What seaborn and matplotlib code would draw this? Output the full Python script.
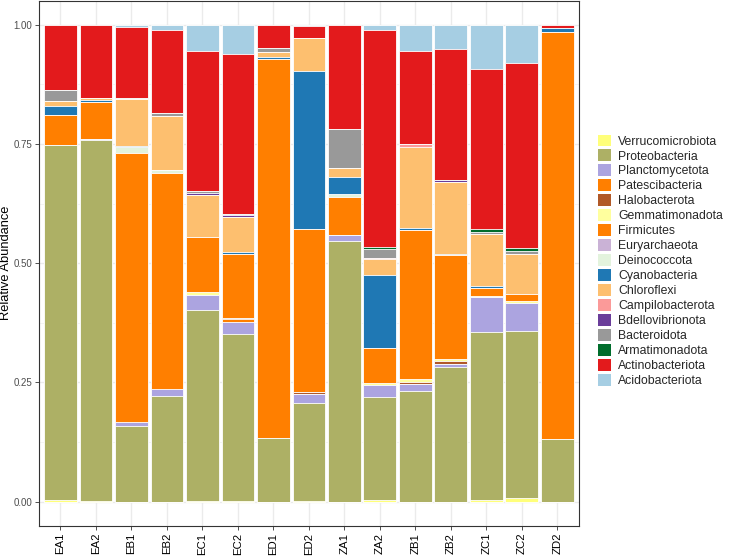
import matplotlib
matplotlib.use("Agg")
import matplotlib.pyplot as plt
import matplotlib.patches as mpatches
from matplotlib.ticker import MultipleLocator
import numpy as np
import pandas as pd
import seaborn as sns

samples = ["EA1", "EA2", "EB1", "EB2", "EC1", "EC2", "ED1", "ED2",
           "ZA1", "ZA2", "ZB1", "ZB2", "ZC1", "ZC2", "ZD2"]

# stack order: bottom -> top (same as legend order top -> bottom)
phyla = ["Verrucomicrobiota", "Proteobacteria", "Planctomycetota", "Patescibacteria",
         "Halobacterota", "Gemmatimonadota", "Firmicutes", "Euryarchaeota",
         "Deinococcota", "Cyanobacteria", "Chloroflexi", "Campilobacterota",
         "Bdellovibrionota", "Bacteroidota", "Armatimonadota", "Actinobacteriota",
         "Acidobacteriota"]

verrucomicrobiota = [0.003, 0.002, 0, 0, 0.002, 0.002, 0, 0.002, 0, 0.003, 0, 0, 0.003, 0.008, 0]
proteobacteria = [0.744, 0.756, 0.159, 0.221, 0.400, 0.349, 0.133, 0.204, 0.547, 0.216, 0.233, 0.283, 0.352, 0.350, 0.131]
planctomycetota = [0, 0.002, 0.009, 0.015, 0.031, 0.026, 0, 0.019, 0.012, 0.026, 0.014, 0.005, 0.073, 0.059, 0]
patescibacteria = [0, 0, 0.563, 0.453, 0, 0.005, 0.795, 0, 0, 0, 0, 0, 0, 0, 0.853]
halobacterota = [0, 0, 0, 0, 0, 0.004, 0, 0.004, 0, 0, 0.004, 0.007, 0, 0, 0]
gemmatimonadota = [0, 0, 0, 0, 0.006, 0, 0, 0, 0, 0.004, 0.007, 0.005, 0.004, 0.004, 0]
firmicutes = [0.063, 0.078, 0, 0, 0.116, 0.134, 0, 0.342, 0.080, 0.074, 0.311, 0.217, 0.016, 0.015, 0]
euryarchaeota = [0, 0, 0, 0, 0, 0, 0, 0, 0, 0, 0, 0, 0, 0, 0]
deinococcota = [0, 0, 0.012, 0.006, 0, 0, 0, 0, 0.005, 0, 0, 0, 0, 0, 0]
cyanobacteria = [0.020, 0.003, 0.003, 0, 0, 0.004, 0.005, 0.332, 0.037, 0.153, 0.005, 0.003, 0.005, 0, 0.009]
chloroflexi = [0.010, 0.006, 0.099, 0.113, 0.088, 0.072, 0.010, 0.068, 0.018, 0.033, 0.170, 0.151, 0.108, 0.083, 0]
campilobacterota = [0, 0, 0, 0, 0, 0, 0, 0, 0, 0.002, 0.006, 0, 0, 0, 0]
bdellovibrionota = [0, 0, 0, 0, 0.005, 0.004, 0, 0, 0, 0, 0, 0.004, 0, 0, 0]
bacteroidota = [0.024, 0, 0.002, 0.007, 0.004, 0.004, 0.009, 0.002, 0.083, 0.018, 0, 0, 0.004, 0.007, 0]
armatimonadota = [0, 0, 0, 0, 0, 0, 0, 0, 0, 0.004, 0, 0, 0.007, 0.005, 0]
actinobacteriota = [0.136, 0.153, 0.148, 0.173, 0.292, 0.334, 0.048, 0.025, 0.218, 0.455, 0.195, 0.274, 0.336, 0.389, 0.007]
acidobacteriota = [0, 0, 0.005, 0.012, 0.056, 0.062, 0, 0.002, 0, 0.012, 0.055, 0.051, 0.092, 0.080, 0]

colors = ["#FFFF7A", "#ADB065", "#ACA4E0", "#FF7F00", "#B15928", "#FFFF9E",
          "#FF7F00", "#CAB2D6", "#E3F3DD", "#1F78B4", "#FDBF6F", "#FB9A99",
          "#6A3D9A", "#999999", "#006D2C", "#E31A1C", "#A6CEE3"]

values = [verrucomicrobiota, proteobacteria, planctomycetota, patescibacteria,
          halobacterota, gemmatimonadota, firmicutes, euryarchaeota, deinococcota,
          cyanobacteria, chloroflexi, campilobacterota, bdellovibrionota,
          bacteroidota, armatimonadota, actinobacteriota, acidobacteriota]

df = pd.DataFrame({p: v for p, v in zip(phyla, values)}, index=samples)
cum = df.cumsum(axis=1)

sns.set_theme(style="white")
plt.rcParams["font.family"] = ["Liberation Sans", "DejaVu Sans"]

W, H = 729, 556
fig = plt.figure(figsize=(W / 100, H / 100), dpi=100)
ax = fig.add_axes([39.2 / W, (H - 525.5) / H, (578.5 - 39.2) / W, (525.5 - 0.8) / H])

# draw stacked bars: cumulative totals, top layer first
for i in range(len(phyla) - 1, -1, -1):
    p = phyla[i]
    d = pd.DataFrame({"Sample": samples, "Total": cum[p].values})
    sns.barplot(data=d, x="Sample", y="Total", order=samples, color=colors[i],
                saturation=1, width=0.92, edgecolor="white", linewidth=0.6,
                ax=ax, zorder=2)

ax.set_xlim(-0.6, len(samples) - 0.4)
ax.set_ylim(-0.05, 1.05)
ax.set_yticks([0, 0.25, 0.5, 0.75, 1.0])
ax.set_yticklabels(["0.00", "0.25", "0.50", "0.75", "1.00"])
ax.yaxis.set_minor_locator(MultipleLocator(0.125))
ax.set_axisbelow(True)
ax.grid(which="major", color="#EBEBEB", linewidth=1.0, zorder=0)
ax.grid(which="minor", axis="y", color="#F3F3F3", linewidth=0.6, zorder=0)

ax.set_xlabel("")
ax.set_ylabel("Relative Abundance", fontsize=9.3, color="black")
ax.yaxis.set_label_coords(-0.051, 0.5)
ax.tick_params(axis="x", labelrotation=90, labelsize=8.2, labelcolor="black",
               length=3.2, width=0.6, color="#333333", pad=2.0, bottom=True)
ax.tick_params(axis="y", labelsize=7, labelcolor="#4D4D4D",
               length=3.2, width=0.6, color="#333333", pad=2, left=True)
ax.tick_params(axis="y", which="minor", left=False)
for s in ax.spines.values():
    s.set_visible(True)
    s.set_color("#333333")
    s.set_linewidth(0.8)

handles = [mpatches.Patch(facecolor=c, edgecolor="none", label=p)
           for p, c in zip(phyla, colors)]
fig.legend(handles=handles, loc="upper left",
           bbox_to_anchor=(598 / W, (H - 134.5) / H),
           frameon=False, fontsize=8.8, handlelength=1.1, handleheight=1.1,
           handletextpad=0.55, labelspacing=0.16, borderpad=0, borderaxespad=0)

fig.savefig("out.png", dpi=100)
